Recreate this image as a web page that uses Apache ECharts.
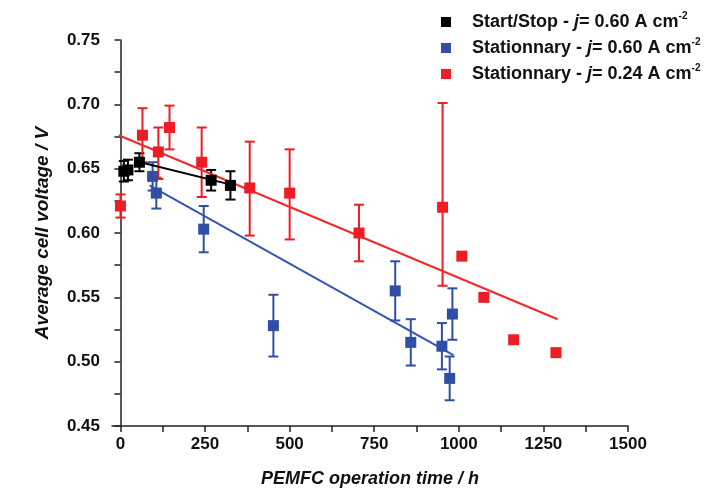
<!DOCTYPE html>
<html>
<head>
<meta charset="utf-8">
<script src="https://cdn.jsdelivr.net/npm/echarts@6/dist/echarts.min.js"></script>
<style>html,body{margin:0;padding:0;background:#fff}#c{width:714px;height:493px}</style>
</head>
<body>
<div id="c"></div>
<script>
// ---- data ----
const seriesNames = ['Start/Stop', 'Stationnary 0.60', 'Stationnary 0.24'];
const legendParts = [
  ['Start/Stop - ', '= 0.60 A cm'],
  ['Stationnary - ', '= 0.60 A cm'],
  ['Stationnary - ', '= 0.24 A cm']
];
const blackX = [10, 22, 56, 268, 325];
const blackY = [0.648, 0.649, 0.655, 0.641, 0.637];
const blackErr = [0.008, 0.008, 0.007, 0.008, 0.011];

const blueX = [95, 106, 246, 452, 812, 858, 950, 973, 981];
const blueY = [0.644, 0.631, 0.603, 0.528, 0.555, 0.515, 0.512, 0.487, 0.537];
const blueErr = [0.011, 0.012, 0.018, 0.024, 0.023, 0.018, 0.018, 0.017, 0.020];

const redX = [0, 65, 112, 145, 240, 382, 500, 705, 952, 1009, 1074, 1162, 1287];
const redY = [0.621, 0.676, 0.663, 0.682, 0.655, 0.635, 0.631, 0.600, 0.620, 0.582, 0.550, 0.517, 0.507];
const redErrPlus  = [0.009, 0.021, 0.019, 0.017, 0.027, 0.036, 0.034, 0.022, 0.081, null, null, null, null];
const redErrMinus = [0.009, 0.021, 0.021, 0.017, 0.027, 0.037, 0.036, 0.022, 0.061, null, null, null, null];

const blackFitX = [44, 335], blackFitY = [0.656, 0.637];
const blueFitX = [86, 984],  blueFitY = [0.637, 0.505];
const redFitX = [-5, 1292],  redFitY = [0.676, 0.533];

const xTickLabels = [0, 250, 500, 750, 1000, 1250, 1500];
const xTicks = [0, 125, 250, 375, 500, 625, 750, 875, 1000, 1125, 1250, 1375, 1500];
const yMin = 0.45, yMax = 0.75, yStep = 0.05;

const colors = ['#000000', '#2f4fa6', '#ee1c24'];
const lineColors = ['#000000', '#3556b0', '#ee2a2a'];

// ---- build ----
function pts(xs, ys) { return xs.map((x, i) => [x, ys[i]]); }
function errs(xs, ys, plus, minus) {
  const out = [];
  xs.forEach((x, i) => {
    if (plus[i] == null) return;
    out.push([x, ys[i] - minus[i], ys[i] + plus[i]]);
  });
  return out;
}
function errSeries(data, color) {
  return {
    type: 'custom',
    data: data,
    encode: { x: 0, y: [1, 2] },
    z: 2,
    silent: true,
    renderItem: function (params, api) {
      const x = api.value(0), lo = api.value(1), hi = api.value(2);
      const t = api.coord([x, hi]), b = api.coord([x, lo]);
      const w = 5;
      const st = { stroke: color, lineWidth: 2 };
      return {
        type: 'group',
        children: [
          { type: 'line', shape: { x1: t[0], y1: t[1], x2: b[0], y2: b[1] }, style: st },
          { type: 'line', shape: { x1: t[0] - w, y1: t[1], x2: t[0] + w, y2: t[1] }, style: st },
          { type: 'line', shape: { x1: b[0] - w, y1: b[1], x2: b[0] + w, y2: b[1] }, style: st }
        ]
      };
    }
  };
}
function fitSeries(xs, ys, color) {
  return {
    type: 'line', data: pts(xs, ys), symbol: 'none', silent: true, z: 3,
    lineStyle: { color: color, width: 2 }
  };
}
function scat(name, xs, ys, color) {
  return {
    name: name, type: 'scatter', data: pts(xs, ys), symbol: 'rect', symbolSize: 11,
    itemStyle: { color: color, opacity: 1 }, z: 4
  };
}

const font = 'Liberation Sans, Arial, sans-serif';
const chart = echarts.init(document.getElementById('c'), null, { renderer: 'canvas' });
chart.setOption({
  animation: false,
  backgroundColor: '#fff',
  textStyle: { fontFamily: font },
  grid: { left: 112, right: 86, top: 40, bottom: 65, containLabel: false },
  legend: {
    orient: 'vertical', left: 441, top: 11, padding: 0, itemGap: 6,
    itemWidth: 10, itemHeight: 10, icon: 'rect',
    data: seriesNames,
    formatter: function (name) {
      const i = seriesNames.indexOf(name);
      return '{a|' + legendParts[i][0] + '}{i|j}{a|' + legendParts[i][1] + '}{s|-2}';
    },
    textStyle: {
      padding: [0, 0, 0, 16],
      rich: {
        a: { fontFamily: font, fontWeight: 'bold', fontSize: 18, lineHeight: 22, color: '#111' },
        i: { fontFamily: font, fontWeight: 'bold', fontStyle: 'italic', fontSize: 18, lineHeight: 22, color: '#111' },
        s: { fontFamily: font, fontWeight: 'bold', fontSize: 10, lineHeight: 12, verticalAlign: 'top', color: '#111' }
      }
    }
  },
  xAxis: {
    type: 'value', min: -25, max: 1500,
    name: 'PEMFC operation time / h', nameLocation: 'middle', nameGap: 44,
    nameTextStyle: { fontFamily: font, fontWeight: 'bold', fontStyle: 'italic', fontSize: 18, color: '#111' },
    splitLine: { show: false },
    axisLine: { onZero: false, lineStyle: { color: '#222', width: 1.5 } },
    axisTick: { show: true, inside: false, length: 6, customValues: xTicks, lineStyle: { color: '#222', width: 1.5 } },
    axisLabel: { customValues: xTickLabels, margin: 10, fontFamily: font, fontWeight: 'bold', fontSize: 17, color: '#111',
      formatter: v => String(v) }
  },
  yAxis: {
    type: 'value', min: yMin, max: yMax, interval: yStep,
    name: 'Average cell voltage / V', nameLocation: 'middle', nameGap: 60, nameRotate: 90,
    nameTextStyle: { fontFamily: font, fontWeight: 'bold', fontStyle: 'italic', fontSize: 19, color: '#111' },
    splitLine: { show: false },
    axisLine: { show: true, lineStyle: { color: '#222', width: 1.5 } },
    axisTick: { show: true, inside: false, length: 6, lineStyle: { color: '#222', width: 1.5 } },
    minorTick: { show: true, splitNumber: 2, length: 6, lineStyle: { color: '#222', width: 1.5 } },
    axisLabel: { margin: 12, fontFamily: font, fontWeight: 'bold', fontSize: 17, color: '#111',
      formatter: v => v.toFixed(2) }
  },
  series: [
    errSeries(errs(blackX, blackY, blackErr, blackErr), colors[0]),
    errSeries(errs(blueX, blueY, blueErr, blueErr), colors[1]),
    errSeries(errs(redX, redY, redErrPlus, redErrMinus), colors[2]),
    fitSeries(blackFitX, blackFitY, lineColors[0]),
    fitSeries(blueFitX, blueFitY, lineColors[1]),
    fitSeries(redFitX, redFitY, lineColors[2]),
    scat(seriesNames[0], blackX, blackY, colors[0]),
    scat(seriesNames[1], blueX, blueY, colors[1]),
    scat(seriesNames[2], redX, redY, colors[2])
  ]
});
</script>
</body>
</html>
